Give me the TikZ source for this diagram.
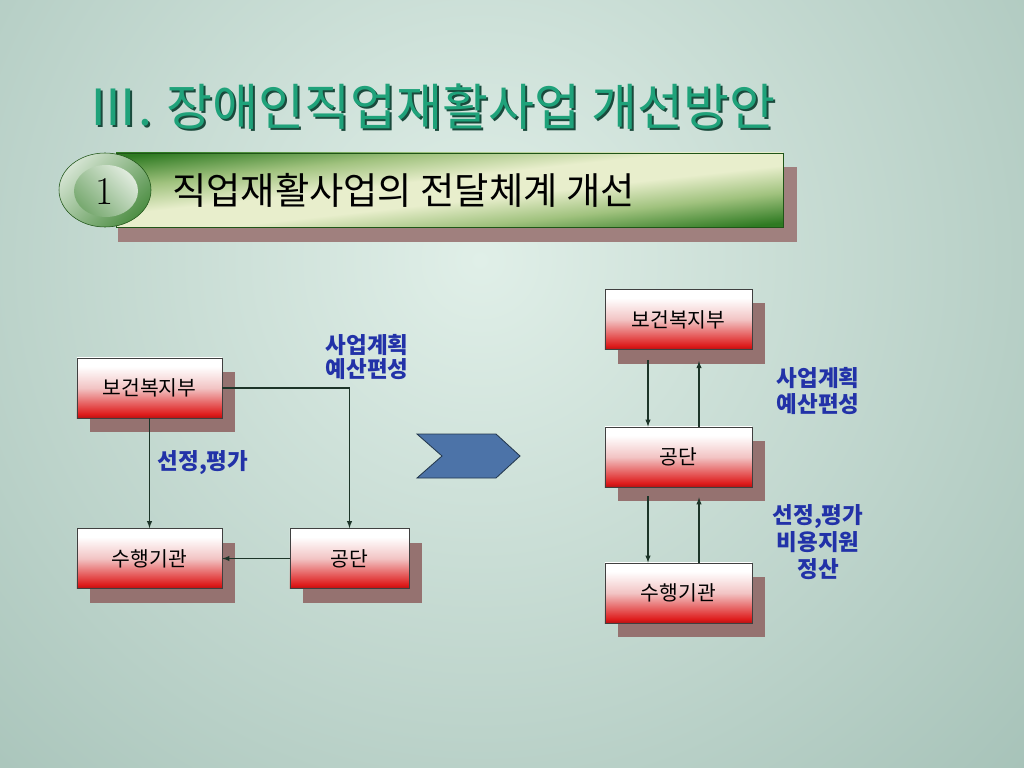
\documentclass[tikz,border=0pt]{standalone}
\usepackage{fontspec}
\newfontfamily\kr{Noto Sans CJK KR}
\usetikzlibrary{calc,shadows,positioning}
\usetikzlibrary{arrows}

\definecolor{bgin}{HTML}{E0EFE8}
\definecolor{bgout}{HTML}{A6C2B8}
\definecolor{titlegreen}{HTML}{1FA27A}
\definecolor{titledark}{HTML}{1A4A3C}
\definecolor{bardark}{HTML}{2E7A22}
\definecolor{barmid}{HTML}{A0C27E}
\definecolor{barlight}{HTML}{E8EECC}
\definecolor{shadowbrown}{HTML}{957270}
\definecolor{boxred}{HTML}{DE1A1A}
\definecolor{boxpink}{HTML}{F2C4C4}
\definecolor{labelblue}{HTML}{2232A8}
\definecolor{linegreen}{HTML}{1C3428}
\definecolor{chevblue}{HTML}{4C73A8}
\definecolor{chevedge}{HTML}{24384E}

\pgfdeclareverticalshading{redbox}{100bp}{color(0bp)=(boxred!80!black); color(25bp)=(boxred!80!black); color(28bp)=(boxred); color(50bp)=(boxpink); color(68bp)=(white); color(100bp)=(white)}
\pgfdeclareverticalshading{greenbar}{100bp}{color(0bp)=(bardark); color(27bp)=(bardark); color(37bp)=(barmid); color(46bp)=(barlight); color(54bp)=(barlight); color(63bp)=(barmid); color(73bp)=(bardark); color(100bp)=(bardark)}

\tikzset{
    unitbox/.style = {draw=black!75, line width=0.5pt, shade, shading=redbox,
        minimum width=3.625cm, minimum height=1.5cm, inner sep=0pt,
        font=\kr\fontsize{14.5}{16}\selectfont,
        drop shadow={shadow xshift=0.325cm, shadow yshift=-0.35cm, fill=shadowbrown, opacity=1}},
    flowlabel/.style = {text=labelblue, font=\kr\bfseries\fontsize{16}{17.5}\selectfont, align=center},
    flow/.style = {->, draw=linegreen, line width=0.75pt}
}

\begin{document}
\begin{tikzpicture}[x=0.025cm, y=-0.025cm, >=latex]
    \useasboundingbox (0,0) rectangle (1024,768);
    % background
    \begin{scope}
        \clip (0,0) rectangle (1024,768);
        \shade[inner color=bgin, outer color=bgout] (480,260) circle (760);
    \end{scope}

    % title
    \node[anchor=west, inner sep=0pt, text=titledark, font=\kr\fontsize{35.5}{40}\selectfont] (title-shadow) at (90,109) {Ⅲ. 장애인직업재활사업 개선방안};
    \node[anchor=west, inner sep=0pt, text=titlegreen, font=\kr\fontsize{35.5}{40}\selectfont] (title) at (88,107) {Ⅲ. 장애인직업재활사업 개선방안};

    % header bar
    \fill[shadowbrown!90!white] (118,167) rectangle (797,242);
    \begin{scope}
        \clip (116,153) rectangle (783,227);
        \shade[shading=greenbar, transform canvas={rotate around={6.3:(449.5,190)}}] (99.5,115) rectangle (799.5,265);
    \end{scope}
    \draw[bardark!70!black] (116,153) rectangle (783,227);
    \shade[draw=bardark!70!black, top color=white!80!bardark, bottom color=bardark!85, shading angle=45] (105,190) ellipse [x radius=46, y radius=37];
    \shade[top color=white!85!bardark, bottom color=bardark!65!white, shading angle=-45] (106,191) ellipse [x radius=32, y radius=26];
    \node[font=\fontsize{28}{30}\selectfont] (num) at (105,191) {1};
    \node[anchor=west, inner sep=0pt, font=\kr\fontsize{26.5}{30}\selectfont] (subtitle) at (172,190) {직업재활사업의 전달체계 개선};

    % before
    \node[unitbox] (lmin) at (149.5,388) {보건복지부};
    \node[unitbox] (lexec) at (149.5,558.5) {수행기관};
    \node[unitbox, minimum width=2.975cm] (lcorp) at (349.5,558.5) {공단};

    \draw[flow] (lmin.south) -- (lexec.north);
    \draw[flow] (lmin.east) -| (lcorp.north);
    \draw[flow] (lcorp.west) -- (lexec.east);

    \node[flowlabel] (lplan) at (367,357) {사업계획\\예산편성};
    \node[flowlabel] (lselect) at (203,463) {선정,평가};

    % chevron
    \draw[fill=chevblue, draw=chevedge, line width=0.6pt] (417,434) -- (496,434) -- (520,456) -- (496,478) -- (417,478) -- (442,456) -- cycle;

    % after
    \node[unitbox, minimum width=3.675cm] (rmin) at (678.5,319.5) {보건복지부};
    \node[unitbox, minimum width=3.675cm] (rcorp) at (678.5,457) {공단};
    \node[unitbox, minimum width=3.675cm] (rexec) at (678.5,593) {수행기관};

    \draw[flow, shorten <=0.25cm] ($(rmin.south)+(-30.5,0)$) -- ($(rcorp.north)+(-30.5,0)$);
    \draw[flow, shorten >=0.28cm] ($(rcorp.north)+(20.5,0)$) -- ($(rmin.south)+(20.5,0)$);
    \draw[flow, shorten <=0.22cm] ($(rcorp.south)+(-30.5,0)$) -- ($(rexec.north)+(-30.5,0)$);
    \draw[flow, shorten >=0.25cm] ($(rexec.north)+(20.5,0)$) -- ($(rcorp.south)+(20.5,0)$);

    \node[flowlabel, font=\kr\bfseries\fontsize{16}{19}\selectfont] (rplan) at (818,391) {사업계획\\예산편성};
    \node[flowlabel, font=\kr\bfseries\fontsize{16}{19.5}\selectfont] (rselect) at (818,542) {선정,평가\\비용지원\\정산};
\end{tikzpicture}
\end{document}
